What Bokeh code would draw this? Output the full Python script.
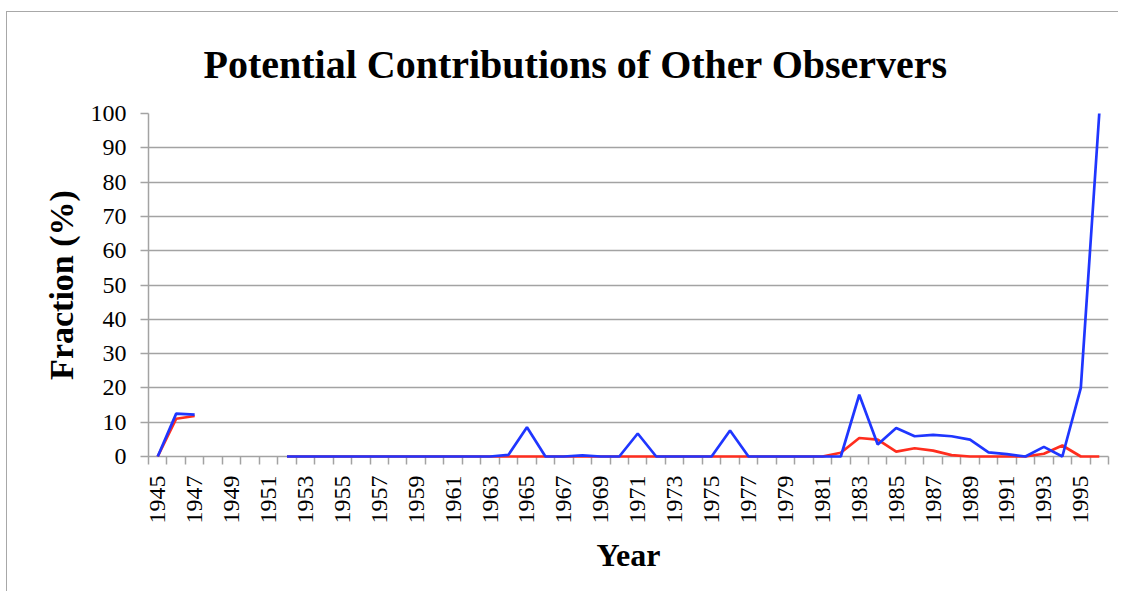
import math
from bokeh.plotting import figure
from bokeh.models import Range1d, FixedTicker, SingleIntervalTicker, ColumnDataSource, Title
from bokeh.embed import file_html
from bokeh.resources import INLINE

nan = float("nan")

years = list(range(1945, 1997))
label_years = list(range(1945, 1997, 2))

blue = [0, 12.5, 12.2, nan, nan, nan, nan,
        0, 0, 0, 0, 0, 0, 0, 0, 0, 0, 0, 0,          # 1952-1963
        0.5, 8.5, 0, 0, 0.3, 0, 0, 6.7, 0, 0, 0, 0,  # 1964-1975
        7.6, 0, 0, 0, 0, 0, 0,                       # 1976-1982
        18.0, 3.5, 8.3, 5.9, 6.3, 5.9, 4.9, 1.2, 0.7, 0, 2.8, 0, 20.0, 100.0]  # 1983-1996

red = [0, 11.0, 11.8, nan, nan, nan, nan,
       0, 0, 0, 0, 0, 0, 0, 0, 0, 0, 0, 0,           # 1952-1963
       0, 0, 0, 0, 0, 0, 0, 0, 0, 0, 0, 0,           # 1964-1975
       0, 0, 0, 0, 0, 0, 1.1,                        # 1976-1982
       5.4, 4.9, 1.4, 2.4, 1.7, 0.4, 0, 0, 0, 0, 0.8, 3.2, 0, 0]  # 1983-1996

title_text = "Potential Contributions of Other Observers"
x_label = "Year"
y_label = "Fraction (%)"

GRID = "#a3a3a3"
SERIF = "Liberation Serif"

p = figure(width=1112, height=580, output_backend="svg", toolbar_location=None,
           x_range=Range1d(years[0] - 0.5, years[-1] + 0.5), y_range=Range1d(0, 100),
           min_border_left=141, min_border_right=11, min_border_top=100, min_border_bottom=136)
p.styles = {"border-left": "1px solid #a8a8a8", "border-top": "1px solid #a8a8a8",
            "margin-left": "6px", "margin-top": "11px"}
p.outline_line_color = None
p.background_fill_color = "white"
p.border_fill_color = "white"

t = Title(text=title_text, align="left", text_font=SERIF, text_font_size="40px",
          text_font_style="bold", text_color="black", offset=55, standoff=54)
p.add_layout(t, "above")

src = ColumnDataSource(dict(year=years, blue=blue, red=red))
p.line("year", "red", source=src, line_color="#ff2d1e", line_width=2.7, level="overlay")
p.line("year", "blue", source=src, line_color="#1f36ff", line_width=2.7, level="overlay")

# grid
p.xgrid.visible = False
p.ygrid.grid_line_color = GRID
p.ygrid.grid_line_width = 1.5
p.yaxis.ticker = SingleIntervalTicker(interval=10)

# x axis
boundaries = [y - 0.5 for y in years] + [years[-1] + 0.5]
p.xaxis.ticker = FixedTicker(ticks=label_years, minor_ticks=boundaries)
p.xaxis.major_tick_out = 0
p.xaxis.major_tick_in = 0
p.xaxis.minor_tick_out = 8
p.xaxis.minor_tick_in = 0
p.xaxis.minor_tick_line_color = GRID
p.xaxis.minor_tick_line_width = 1.5
p.xaxis.axis_line_color = GRID
p.xaxis.axis_line_width = 1.5
p.xaxis.major_label_orientation = math.pi / 2
p.xaxis.major_label_standoff = 11
p.xaxis.major_label_text_font = SERIF
p.xaxis.major_label_text_font_size = "24px"
p.xaxis.major_label_text_color = "black"
p.xaxis.axis_label = x_label
p.xaxis.axis_label_text_font = SERIF
p.xaxis.axis_label_text_font_size = "32px"
p.xaxis.axis_label_text_font_style = "bold"
p.xaxis.axis_label_text_color = "black"
p.xaxis.axis_label_standoff = 10

# y axis
p.yaxis.major_tick_out = 8
p.yaxis.major_tick_in = 0
p.yaxis.minor_tick_out = 0
p.yaxis.minor_tick_in = 0
p.yaxis.major_tick_line_color = GRID
p.yaxis.major_tick_line_width = 1.5
p.yaxis.axis_line_color = GRID
p.yaxis.axis_line_width = 1.5
p.yaxis.major_label_standoff = 14
p.yaxis.major_label_text_font = SERIF
p.yaxis.major_label_text_font_size = "24px"
p.yaxis.major_label_text_color = "black"
p.yaxis.axis_label = y_label
p.yaxis.axis_label_text_font = SERIF
p.yaxis.axis_label_text_font_size = "34px"
p.yaxis.axis_label_text_font_style = "bold"
p.yaxis.axis_label_text_color = "black"
p.yaxis.axis_label_standoff = 8

open("out.html", "w").write(file_html(p, INLINE))
